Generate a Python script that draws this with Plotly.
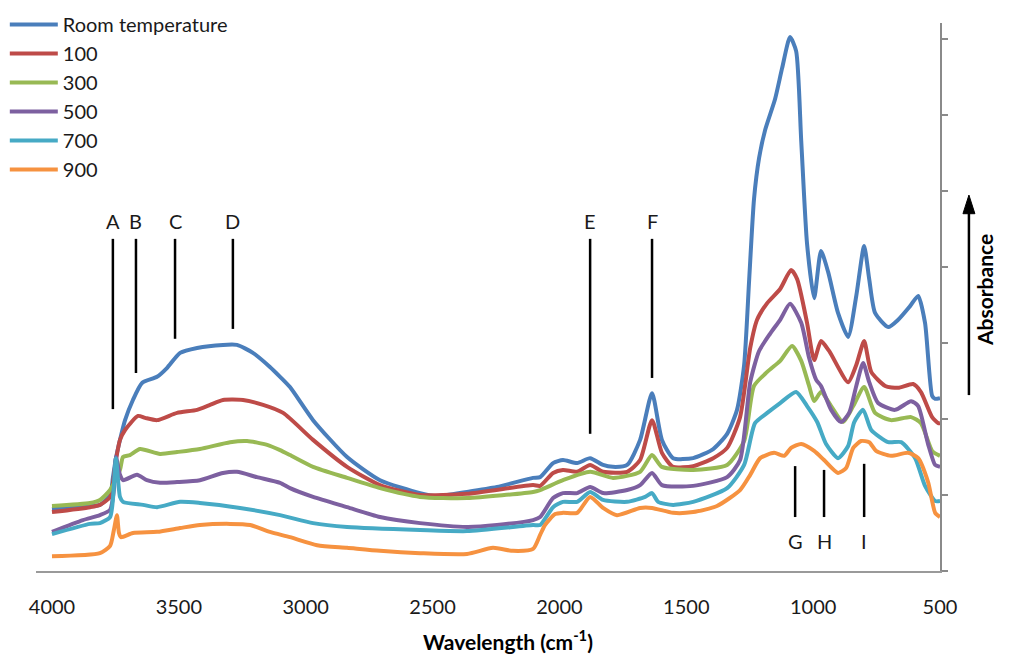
import plotly.graph_objects as go

# ---- data (wavenumber cm-1, absorbance a.u.) ----
rt_x = [4000, 3850, 3811, 3771, 3760, 3748, 3732, 3712, 3681, 3645, 3586, 3547, 3495, 3428, 3326, 3271,
        3208, 3141, 3101, 3062, 2971, 2837, 2707, 2549, 2482, 2364, 2246, 2104, 2076, 2025, 1986, 1930,
        1879, 1828, 1789, 1733, 1682, 1635, 1596, 1552, 1473, 1394, 1339, 1300, 1272, 1252, 1233, 1213,
        1189, 1150, 1122, 1091, 1067, 1047, 1024, 996, 969, 941, 902, 862, 830, 799, 779, 756, 704, 665,
        618, 586, 559, 531, 519, 500]
rt_y = [0.163, 0.171, 0.174, 0.200, 0.245, 0.297, 0.345, 0.397, 0.450, 0.495, 0.511, 0.534, 0.574, 0.587,
        0.595, 0.595, 0.574, 0.537, 0.511, 0.484, 0.397, 0.300, 0.239, 0.205, 0.197, 0.208, 0.221, 0.245,
        0.247, 0.284, 0.292, 0.284, 0.297, 0.279, 0.274, 0.279, 0.345, 0.468, 0.345, 0.297, 0.297, 0.321,
        0.361, 0.424, 0.542, 0.768, 0.979, 1.087, 1.161, 1.242, 1.324, 1.405, 1.368, 1.132, 0.861, 0.718,
        0.842, 0.787, 0.679, 0.616, 0.724, 0.855, 0.768, 0.679, 0.642, 0.661, 0.697, 0.724, 0.653, 0.461,
        0.453, 0.455]

t100_x = [4000, 3850, 3811, 3771, 3748, 3732, 3712, 3661, 3633, 3586, 3507, 3428, 3377, 3326, 3247, 3168,
          3089, 2971, 2837, 2707, 2549, 2364, 2104, 2076, 2025, 1986, 1930, 1879, 1828, 1733, 1682, 1635,
          1596, 1552, 1473, 1394, 1339, 1288, 1248, 1221, 1181, 1130, 1087, 1063, 1024, 996, 969, 937,
          862, 830, 799, 771, 716, 665, 606, 575, 531, 507, 500]
t100_y = [0.155, 0.168, 0.174, 0.195, 0.292, 0.345, 0.371, 0.408, 0.403, 0.397, 0.416, 0.424, 0.437, 0.450,
          0.450, 0.437, 0.416, 0.345, 0.274, 0.226, 0.200, 0.203, 0.226, 0.224, 0.258, 0.266, 0.261, 0.279,
          0.261, 0.261, 0.292, 0.397, 0.311, 0.274, 0.276, 0.297, 0.324, 0.405, 0.587, 0.661, 0.705, 0.742,
          0.792, 0.768, 0.653, 0.555, 0.605, 0.579, 0.497, 0.542, 0.605, 0.524, 0.487, 0.482, 0.492, 0.471,
          0.405, 0.389, 0.389]

t300_x = [4000, 3850, 3811, 3771, 3732, 3720, 3693, 3653, 3574, 3507, 3417, 3298, 3231, 3152, 3101, 3062,
          2971, 2837, 2707, 2549, 2364, 2104, 2076, 1986, 1879, 1789, 1682, 1635, 1596, 1473, 1339, 1272,
          1233, 1181, 1130, 1083, 1047, 1016, 996, 969, 929, 882, 842, 799, 756, 693, 614, 575, 531, 500]
t300_y = [0.171, 0.179, 0.187, 0.213, 0.266, 0.300, 0.305, 0.321, 0.308, 0.313, 0.321, 0.339, 0.342, 0.332,
          0.318, 0.305, 0.274, 0.245, 0.218, 0.195, 0.192, 0.208, 0.213, 0.239, 0.261, 0.245, 0.261, 0.305,
          0.274, 0.266, 0.279, 0.342, 0.487, 0.524, 0.553, 0.592, 0.553, 0.487, 0.447, 0.471, 0.434, 0.392,
          0.434, 0.484, 0.416, 0.397, 0.405, 0.389, 0.316, 0.303]

t500_x = [4000, 3878, 3811, 3771, 3756, 3748, 3732, 3720, 3665, 3626, 3574, 3507, 3417, 3326, 3271, 3192,
          3101, 3062, 2971, 2837, 2707, 2549, 2364, 2246, 2104, 2076, 2025, 1986, 1930, 1879, 1828, 1733,
          1682, 1635, 1596, 1473, 1339, 1288, 1248, 1213, 1170, 1130, 1091, 1047, 1016, 988, 969, 929,
          890, 858, 830, 803, 779, 744, 677, 614, 586, 547, 519, 500]
t500_y = [0.103, 0.134, 0.147, 0.161, 0.213, 0.300, 0.253, 0.239, 0.253, 0.239, 0.232, 0.234, 0.239, 0.258,
          0.261, 0.247, 0.232, 0.218, 0.195, 0.168, 0.142, 0.126, 0.116, 0.121, 0.134, 0.142, 0.192, 0.205,
          0.205, 0.221, 0.205, 0.213, 0.226, 0.258, 0.226, 0.224, 0.247, 0.292, 0.497, 0.579, 0.624, 0.661,
          0.703, 0.653, 0.561, 0.503, 0.487, 0.424, 0.392, 0.416, 0.487, 0.547, 0.497, 0.442, 0.424, 0.447,
          0.434, 0.334, 0.279, 0.274]

t700_x = [4000, 3850, 3811, 3771, 3760, 3748, 3732, 3720, 3641, 3586, 3495, 3417, 3259, 3101, 2971, 2837,
          2549, 2364, 2104, 2076, 2025, 1986, 1930, 1879, 1828, 1733, 1662, 1635, 1611, 1552, 1473, 1339,
          1272, 1229, 1181, 1130, 1067, 1024, 984, 949, 902, 862, 838, 803, 771, 704, 653, 598, 559, 519, 500]
t700_y = [0.097, 0.124, 0.126, 0.142, 0.187, 0.297, 0.195, 0.182, 0.174, 0.168, 0.182, 0.179, 0.166, 0.147,
          0.126, 0.116, 0.108, 0.105, 0.121, 0.121, 0.168, 0.182, 0.182, 0.208, 0.187, 0.182, 0.195, 0.205,
          0.182, 0.174, 0.182, 0.218, 0.279, 0.389, 0.416, 0.442, 0.471, 0.434, 0.392, 0.334, 0.297, 0.329,
          0.392, 0.424, 0.371, 0.339, 0.339, 0.297, 0.224, 0.184, 0.184]

t900_x = [4000, 3811, 3771, 3756, 3744, 3736, 3728, 3681, 3586, 3495, 3417, 3298, 3219, 3141, 3062, 2955,
          2837, 2707, 2549, 2364, 2262, 2183, 2104, 2076, 2057, 2017, 1986, 1930, 1879, 1828, 1773, 1682,
          1635, 1552, 1473, 1379, 1288, 1248, 1209, 1154, 1114, 1087, 1047, 996, 957, 902, 870, 842, 811,
          779, 752, 693, 626, 586, 547, 519, 500]
t900_y = [0.039, 0.047, 0.066, 0.108, 0.147, 0.100, 0.089, 0.100, 0.103, 0.113, 0.121, 0.124, 0.121, 0.103,
          0.089, 0.068, 0.061, 0.053, 0.047, 0.045, 0.061, 0.053, 0.058, 0.095, 0.121, 0.150, 0.153, 0.153,
          0.195, 0.166, 0.147, 0.166, 0.166, 0.153, 0.155, 0.171, 0.213, 0.253, 0.297, 0.311, 0.303, 0.324,
          0.334, 0.316, 0.292, 0.258, 0.271, 0.324, 0.342, 0.339, 0.316, 0.303, 0.311, 0.297, 0.234, 0.153,
          0.142]

series_names = ["Room temperature", "100", "300", "500", "700", "900"]
series_x = [rt_x, t100_x, t300_x, t500_x, t700_x, t900_x]
series_y = [rt_y, t100_y, t300_y, t500_y, t700_y, t900_y]
colors = ["#4A7EBB", "#BE4B48", "#98B954", "#7D60A0", "#46AAC5", "#F69240"]

# band markers: label, wavenumber, line bottom, line top (absorbance)
upper_labels = ["A", "B", "C", "D", "E", "F"]
upper_pos = [3760, 3669, 3515, 3287, 1879, 1635]
upper_bottom = [0.426, 0.521, 0.611, 0.637, 0.361, 0.508]
upper_top = 0.874
upper_text_y = 0.921
lower_labels = ["G", "H", "I"]
lower_pos = [1071, 957, 799]
lower_top = [0.276, 0.266, 0.282]
lower_bottom = 0.142
lower_text_y = 0.079

x_ticks = [4000, 3500, 3000, 2500, 2000, 1500, 1000, 500]

FONT = "Lato, 'Open Sans', sans-serif"

fig = go.Figure()
for name, xs, ys, c in zip(series_names, series_x, series_y, colors):
    fig.add_trace(go.Scatter(x=xs, y=ys, mode="lines", name=name,
                             line=dict(color=c, width=4, shape="spline", smoothing=0.6)))

for lab, xv, yb in zip(upper_labels, upper_pos, upper_bottom):
    fig.add_shape(type="line", x0=xv, x1=xv, y0=yb, y1=upper_top, xref="x", yref="y",
                  line=dict(color="black", width=2.5))
    fig.add_annotation(x=xv, y=upper_text_y, text=lab, showarrow=False, xref="x", yref="y",
                       font=dict(family=FONT, size=20, color="#1a1a1a"))
for lab, xv, yt in zip(lower_labels, lower_pos, lower_top):
    fig.add_shape(type="line", x0=xv, x1=xv, y0=lower_bottom, y1=yt, xref="x", yref="y",
                  line=dict(color="black", width=2.5))
    fig.add_annotation(x=xv, y=lower_text_y, text=lab, showarrow=False, xref="x", yref="y",
                       font=dict(family=FONT, size=20, color="#1a1a1a"))

# axis titles
fig.add_annotation(x=0.522, y=-0.125, xref="paper", yref="paper", showarrow=False,
                   text="<b>Wavelength (cm<sup>-1</sup>)</b>", yanchor="middle",
                   font=dict(family=FONT, size=21, color="black"))
fig.add_annotation(x=1.066, y=0.513, xref="paper", yref="paper", showarrow=False,
                   text="<b>Absorbance</b>", textangle=-90,
                   font=dict(family=FONT, size=21, color="black"))
# absorbance arrow (shaft + head as shapes in paper coordinates)
fig.add_shape(type="line", xref="paper", yref="paper", x0=1.032, x1=1.032, y0=0.321, y1=0.66,
              line=dict(color="black", width=2.5))
fig.add_shape(type="path", xref="paper", yref="paper",
              path="M 1.0254 0.652 L 1.0386 0.652 L 1.032 0.686 Z",
              fillcolor="black", line=dict(color="black", width=1))

fig.update_layout(
    width=1011, height=657,
    margin=dict(l=36, r=71, t=23, b=86, autoexpand=False),
    paper_bgcolor="white", plot_bgcolor="white",
    font=dict(family=FONT, size=20, color="#1a1a1a"),
    showlegend=True,
    legend=dict(x=-0.0345, y=1.033, xanchor="left", yanchor="top", bgcolor="rgba(0,0,0,0)",
                font=dict(family=FONT, size=20, color="#1a1a1a"), itemwidth=48,
                traceorder="normal", borderwidth=0),
    xaxis=dict(range=[4063, 500], tickvals=x_ticks, ticktext=[str(v) for v in x_ticks],
               showline=True, linecolor="#9a9a9a", linewidth=1.5, showgrid=False, zeroline=False,
               ticks="", ticklabelstandoff=17, tickfont=dict(family=FONT, size=20, color="#1a1a1a")),
    yaxis=dict(range=[0, 1.442], side="right", showline=True, linecolor="#8a8a8a", linewidth=1.5,
               showgrid=False, zeroline=False, ticks="outside", ticklen=6, tickcolor="#8a8a8a",
               tickwidth=1.5, dtick=0.2, tick0=0, showticklabels=False),
)

fig.write_html("out.html")
